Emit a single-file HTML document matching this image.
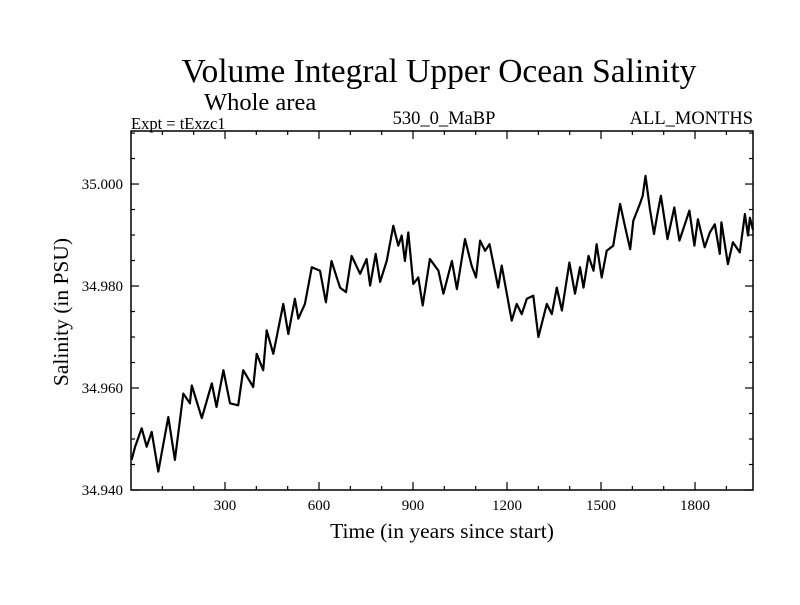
<!DOCTYPE html>
<html><head><meta charset="utf-8"><style>
html,body{margin:0;padding:0;background:#fff}
svg text{font-family:"Liberation Serif",serif;fill:#000}
</style></head><body>
<svg id="chart" width="800" height="600" xmlns="http://www.w3.org/2000/svg">
<text x="439" y="82" font-size="33.5" text-anchor="middle">Volume Integral Upper Ocean Salinity</text>
<text x="204" y="110" font-size="24.5">Whole area</text>
<text x="131" y="129" font-size="16.5">Expt = tExzc1</text>
<text x="444" y="124" font-size="18.5" text-anchor="middle">530_0_MaBP</text>
<text x="753" y="124" font-size="18.5" text-anchor="end">ALL_MONTHS</text>
<text transform="translate(68,312) rotate(-90)" font-size="21.5" text-anchor="middle">Salinity (in PSU)</text>
<text x="442" y="538" font-size="21.5" text-anchor="middle">Time (in years since start)</text>
<g id="axes"></g>
<path id="series" fill="none" stroke="#000" stroke-width="2.2" stroke-linejoin="round"/>
<rect x="131" y="131" width="622" height="359" fill="none" stroke="#000" stroke-width="1.5"/>
</svg>
<script>
const years=[2,13,34,50,66,87,119,140,167,188,194,226,258,273,295,316,342,358,390,401,422,433,454,486,502,523,534,555,577,603,622,640,667,686,704,731,752,763,781,795,816,837,853,864,874,885,901,917,931,954,981,997,1024,1040,1066,1087,1101,1114,1130,1144,1172,1183,1215,1231,1247,1263,1284,1300,1327,1343,1359,1375,1399,1417,1433,1444,1460,1476,1486,1502,1518,1539,1561,1577,1593,1603,1624,1633,1642,1656,1669,1680,1691,1712,1734,1750,1782,1798,1809,1831,1847,1863,1879,1884,1905,1921,1943,1959,1969,1975,1985];
const salinity=[34.9459,34.9485,34.9521,34.9485,34.9514,34.9436,34.9543,34.9459,34.9589,34.9570,34.9605,34.9541,34.9609,34.9563,34.9635,34.9570,34.9566,34.9635,34.9602,34.9667,34.9635,34.9713,34.9667,34.9765,34.9706,34.9775,34.9736,34.9765,34.9837,34.9830,34.9768,34.9849,34.9797,34.9788,34.9859,34.9824,34.9853,34.9801,34.9863,34.9808,34.9849,34.9918,34.9879,34.9899,34.9849,34.9905,34.9804,34.9817,34.9762,34.9853,34.9830,34.9785,34.9849,34.9794,34.9892,34.9840,34.9817,34.9889,34.9869,34.9882,34.9797,34.9840,34.9732,34.9765,34.9745,34.9775,34.9781,34.9700,34.9765,34.9745,34.9797,34.9752,34.9846,34.9785,34.9837,34.9797,34.9859,34.9830,34.9882,34.9817,34.9869,34.9879,34.9961,34.9915,34.9872,34.9928,34.9961,34.9977,35.0016,34.9951,34.9902,34.9941,34.9977,34.9892,34.9954,34.9889,34.9948,34.9879,34.9931,34.9876,34.9905,34.9921,34.9863,34.9925,34.9843,34.9886,34.9866,34.9941,34.9899,34.9934,34.9910];
const xTicks=[300,600,900,1200,1500,1800];
const yTicks=[34.940,34.960,34.980,35.000];
const yTickLabels=["34.940","34.960","34.980","35.000"];
const X0=131,X1=753,Y0=490,Y1=131,XMIN=0,XMAX=1985,YMIN=34.940,YMAX=35.0104;
const sx=v=>X0+(v-XMIN)/(XMAX-XMIN)*(X1-X0);
const sy=v=>Y0-(v-YMIN)/(YMAX-YMIN)*(Y0-Y1);
const NS="http://www.w3.org/2000/svg",g=document.getElementById('axes');
function line(x1,y1,x2,y2,name){const l=document.createElementNS(NS,'line');
l.setAttribute('x1',x1);l.setAttribute('y1',y1);l.setAttribute('x2',x2);l.setAttribute('y2',y2);
l.setAttribute('stroke','#000');l.setAttribute('stroke-width','1.2');


g.appendChild(l);}
function text(x,y,s,anchor,name){const t=document.createElementNS(NS,'text');
t.setAttribute('x',x);t.setAttribute('y',y);t.setAttribute('font-size','15');t.setAttribute('text-anchor',anchor);t.textContent=s;


g.appendChild(t);}
for(let v=100;v<XMAX;v+=100){const x=sx(v);const major=v%300===0;const L=major?8:4;
line(x,Y0,x,Y0-L,'x-tick');line(x,Y1,x,Y1+L,'x-tick-top');}
xTicks.forEach(v=>text(sx(v),510,String(v),'middle','x-tick-label'));
for(let k=0;k<=14;k++){const v=YMIN+k*0.005;if(v>YMAX)break;const y=sy(v);const major=k%4===0;const L=major?8:4;
line(X0,y,X0+L,y,'y-tick');line(X1,y,X1-L,y,'y-tick-right');}
yTicks.forEach((v,i)=>text(123,sy(v)+5,yTickLabels[i],'end','y-tick-label'));
document.getElementById('series').setAttribute('d',years.map((yr,i)=>(i?'L':'M')+sx(yr).toFixed(1)+','+sy(salinity[i]).toFixed(1)).join(''));
</script>
</body></html>
